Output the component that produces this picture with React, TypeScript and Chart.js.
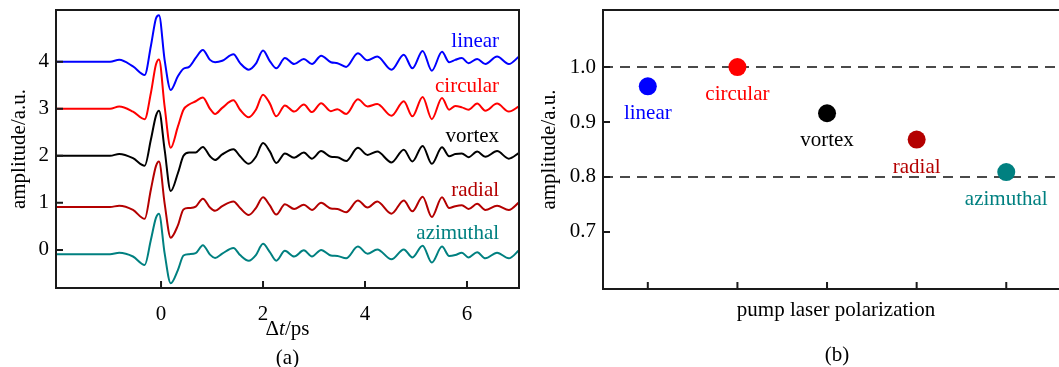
import React, { useEffect, useRef } from "react";
import { Chart, registerables } from "chart.js";

Chart.register(...registerables);

// ---------- data: panel (a) ----------
const timePs = [
  -2.06, -1.0, -0.82, -0.55, -0.32, -0.2, -0.1, -0.04, 0.07, 0.19,
  0.33, 0.44, 0.55, 0.68, 0.82, 0.96, 1.06, 1.2, 1.42, 1.55,
  1.72, 1.86, 2.0, 2.13, 2.26, 2.43, 2.61, 2.8, 2.96, 3.14,
  3.33, 3.46, 3.63, 3.86, 4.05, 4.24, 4.52, 4.76, 4.93, 5.13,
  5.31, 5.51, 5.65, 5.77, 5.9, 6.03, 6.2, 6.36, 6.59, 6.82, 7.02,
];
const linearTrace = [
  4.0, 4.0, 4.04, 3.9, 3.72, 4.33, 4.92, 4.99, 4.04, 3.4,
  3.69, 3.85, 3.89, 4.08, 4.25, 4.04, 3.99, 4.02, 4.16, 3.97,
  3.83, 3.96, 4.24, 4.02, 3.86, 4.08, 3.95, 4.06, 3.95, 4.13,
  3.99, 3.97, 3.89, 4.18, 4.03, 4.11, 3.83, 4.15, 3.86, 4.23,
  3.81, 4.21, 3.99, 4.04, 4.08, 3.97, 4.06, 3.95, 4.11, 3.95, 4.11,
];
const circularTrace = [
  3.0, 3.0, 3.05, 2.94, 2.78, 3.33, 3.94, 4.05, 3.05, 2.17,
  2.62, 2.98, 3.09, 3.16, 3.24, 3.0, 2.89, 3.02, 3.18, 2.98,
  2.82, 2.98, 3.3, 3.12, 2.84, 3.07, 2.94, 3.09, 2.93, 3.12,
  2.95, 2.99, 2.89, 3.2, 3.05, 3.1, 2.85, 3.16, 2.84, 3.25,
  2.78, 3.23, 2.98, 3.06, 3.03, 2.98, 3.11, 2.96, 3.11, 2.94, 3.05,
];
const vortexTrace = [
  2.0, 2.0, 2.04, 1.95, 1.79, 2.34, 2.85, 2.96, 2.13, 1.25,
  1.63, 2.0, 2.07, 2.07, 2.19, 1.99, 1.91, 2.03, 2.14, 1.99,
  1.83, 1.98, 2.27, 2.1, 1.85, 2.05, 1.96, 2.07, 1.94, 2.1,
  1.98, 1.97, 1.89, 2.17, 2.02, 2.09, 1.86, 2.13, 1.88, 2.21,
  1.83, 2.18, 1.99, 2.04, 2.05, 1.97, 2.09, 1.98, 2.1, 1.94, 2.06,
];
const radialTrace = [
  0.91, 0.91, 0.94, 0.85, 0.66, 1.28, 1.78, 1.88, 0.99, 0.26,
  0.52, 0.86, 0.89, 0.92, 1.09, 0.9, 0.83, 0.93, 1.03, 0.89,
  0.74, 0.89, 1.12, 0.95, 0.75, 0.97, 0.87, 0.96, 0.85, 1.0,
  0.88, 0.87, 0.8, 1.05, 0.9, 1.03, 0.77, 1.05, 0.82, 1.13,
  0.7, 1.12, 0.89, 0.93, 0.95, 0.87, 0.98, 0.85, 0.94, 0.85, 1.01,
];
const azimuthalTrace = [
  -0.09, -0.09, -0.06, -0.14, -0.32, 0.21, 0.68, 0.77, -0.07, -0.71,
  -0.43, -0.12, -0.09, -0.07, 0.1, -0.1, -0.17, -0.08, 0.04, -0.11,
  -0.23, -0.11, 0.13, -0.04, -0.23, -0.02, -0.14, -0.01, -0.14, 0.0,
  -0.12, -0.13, -0.18, 0.07, -0.08, 0.01, -0.2, 0.01, -0.16, 0.09,
  -0.27, 0.07, -0.13, -0.11, -0.06, -0.16, -0.05, -0.18, -0.06, -0.18, -0.01,
];
const leftXTicks = [0, 2, 4, 6];
const leftYTicks = [0, 1, 2, 3, 4];

// ---------- data: panel (b) ----------
const polarizations = ["linear", "circular", "vortex", "radial", "azimuthal"];
const relativeAmplitude = [0.965, 1.0, 0.916, 0.868, 0.809];
const referenceLevels = [1.0, 0.8];
const rightYTicks = [0.7, 0.8, 0.9, 1.0];

// ---------- styles ----------
const seriesColors = ["#0000ff", "#ff0000", "#000000", "#b40000", "#008080"];
const SERIF = "'Liberation Serif', 'Times New Roman', Times, serif";
const FONT_SIZE = 21;
const AXIS_COLOR = "#1a1a1a";

const traces = [linearTrace, circularTrace, vortexTrace, radialTrace, azimuthalTrace];
// label anchors (data coordinates, right aligned) for panel (a)
const leftLabelX = 6.63;
const leftLabelY = [4.31, 3.36, 2.3, 1.15, 0.23];

function frameAndTicks(chart: any, xTicks: number[], yTicks: number[]) {
  const { ctx, chartArea } = chart;
  const { left, right, top, bottom } = chartArea;
  const xs = chart.scales.x;
  const ys = chart.scales.y;
  ctx.save();
  ctx.strokeStyle = AXIS_COLOR;
  ctx.lineWidth = 2;
  ctx.beginPath();
  for (const v of xTicks) {
    const px = xs.getPixelForValue(v);
    ctx.moveTo(px, bottom);
    ctx.lineTo(px, bottom - 7);
  }
  for (const v of yTicks) {
    const py = ys.getPixelForValue(v);
    ctx.moveTo(left, py);
    ctx.lineTo(left + 7, py);
  }
  ctx.stroke();
  ctx.strokeRect(left, top, right - left, bottom - top);
  ctx.restore();
}

function rotatedTitle(ctx: CanvasRenderingContext2D, text: string, x: number, y: number) {
  ctx.save();
  ctx.translate(x, y);
  ctx.rotate(-Math.PI / 2);
  ctx.font = `${FONT_SIZE}px ${SERIF}`;
  ctx.fillStyle = "#000";
  ctx.textAlign = "center";
  ctx.textBaseline = "middle";
  ctx.fillText(text, 0, 0);
  ctx.restore();
}

const leftPlugin = {
  id: "leftDecor",
  afterDraw(chart: any) {
    const { ctx, chartArea } = chart;
    frameAndTicks(chart, leftXTicks, leftYTicks);
    const xs = chart.scales.x;
    const ys = chart.scales.y;
    ctx.save();
    ctx.font = `${FONT_SIZE}px ${SERIF}`;
    ctx.textAlign = "right";
    ctx.textBaseline = "alphabetic";
    polarizations.forEach((name, i) => {
      ctx.fillStyle = seriesColors[i];
      ctx.fillText(name, xs.getPixelForValue(leftLabelX), ys.getPixelForValue(leftLabelY[i]));
    });
    // x title: Δt/ps with italic t
    const cx = (chartArea.left + chartArea.right) / 2;
    const base = 335;
    const normal = `${FONT_SIZE}px ${SERIF}`;
    const italic = `italic ${FONT_SIZE}px ${SERIF}`;
    ctx.fillStyle = "#000";
    ctx.textAlign = "left";
    ctx.font = normal;
    const w1 = ctx.measureText("Δ").width;
    const w3 = ctx.measureText("/ps").width;
    ctx.font = italic;
    const w2 = ctx.measureText("t").width;
    let x0 = cx - (w1 + w2 + w3) / 2;
    ctx.font = normal;
    ctx.fillText("Δ", x0, base);
    x0 += w1;
    ctx.font = italic;
    ctx.fillText("t", x0, base);
    x0 += w2;
    ctx.font = normal;
    ctx.fillText("/ps", x0, base);
    ctx.textAlign = "center";
    ctx.fillText("(a)", cx, 364);
    ctx.restore();
    rotatedTitle(ctx, "amplitude/a.u.", 19, (chartArea.top + chartArea.bottom) / 2);
  },
};

const rightPlugin = {
  id: "rightDecor",
  afterDraw(chart: any) {
    const { ctx, chartArea } = chart;
    frameAndTicks(chart, polarizations.map((_, i) => i), rightYTicks);
    const xs = chart.scales.x;
    const ys = chart.scales.y;
    ctx.save();
    ctx.font = `${FONT_SIZE}px ${SERIF}`;
    ctx.textAlign = "center";
    ctx.textBaseline = "alphabetic";
    polarizations.forEach((name, i) => {
      ctx.fillStyle = seriesColors[i];
      ctx.fillText(name, xs.getPixelForValue(i), ys.getPixelForValue(relativeAmplitude[i]) + 33);
    });
    ctx.fillStyle = "#000";
    const cx = (chartArea.left + chartArea.right) / 2;
    ctx.fillText("pump laser polarization", cx, 316);
    ctx.fillText("(b)", cx + 1, 361);
    ctx.restore();
    rotatedTitle(ctx, "amplitude/a.u.", 19, (chartArea.top + chartArea.bottom) / 2);
  },
};

const tickFont = { family: SERIF, size: FONT_SIZE };

function fitX(height: number) {
  return (s: any) => {
    s.height = height;
    s.paddingLeft = 0;
    s.paddingRight = 0;
    s.paddingTop = 0;
    s.paddingBottom = 0;
  };
}
function fitY(width: number) {
  return (s: any) => {
    s.width = width;
    s.paddingLeft = 0;
    s.paddingRight = 0;
    s.paddingTop = 0;
    s.paddingBottom = 0;
  };
}

function LeftChart() {
  const ref = useRef<HTMLCanvasElement>(null);
  useEffect(() => {
    const chart = new Chart(ref.current!, {
      type: "line",
      data: {
        datasets: traces.map((tr, i) => ({
          label: polarizations[i],
          data: timePs.map((t, k) => ({ x: t, y: tr[k] })),
          borderColor: seriesColors[i],
          borderWidth: 2,
          pointRadius: 0,
          fill: false,
          cubicInterpolationMode: "monotone" as const,
        })),
      },
      options: {
        animation: false,
        responsive: false,
        devicePixelRatio: 1,
        layout: { padding: { top: 10, right: 11, left: 0, bottom: 0 } },
        plugins: { legend: { display: false }, tooltip: { enabled: false } },
        scales: {
          x: {
            type: "linear",
            min: -2.06,
            max: 7.02,
            afterBuildTicks: (s: any) => {
              s.ticks = leftXTicks.map((v) => ({ value: v }));
            },
            afterFit: fitX(79),
            grid: { display: false, drawTicks: false },
            border: { display: false },
            ticks: { font: tickFont, color: "#000", padding: 14, callback: (v: any) => String(v) },
          },
          y: {
            type: "linear",
            min: -0.81,
            max: 5.1,
            afterBuildTicks: (s: any) => {
              s.ticks = leftYTicks.map((v) => ({ value: v }));
            },
            afterFit: fitY(56),
            grid: { display: false, drawTicks: false },
            border: { display: false },
            ticks: { font: tickFont, color: "#000", padding: 7, callback: (v: any) => String(v) },
          },
        },
      },
      plugins: [leftPlugin],
    } as any);
    return () => chart.destroy();
  }, []);
  return (
    <canvas
      ref={ref}
      width={530}
      height={367}
      style={{ position: "absolute", left: 0, top: 0, width: 530, height: 367 }}
    />
  );
}

function RightChart() {
  const ref = useRef<HTMLCanvasElement>(null);
  useEffect(() => {
    const chart = new Chart(ref.current!, {
      type: "scatter",
      data: {
        datasets: [
          {
            label: "amplitude",
            data: relativeAmplitude.map((v, i) => ({ x: i, y: v })),
            pointRadius: 9,
            pointHoverRadius: 9,
            pointBorderWidth: 0,
            pointBackgroundColor: seriesColors,
            pointBorderColor: seriesColors,
            showLine: false,
          },
          ...referenceLevels.map((lv) => ({
            type: "line" as const,
            label: `level ${lv}`,
            data: [
              { x: -0.5, y: lv },
              { x: 4.7, y: lv },
            ],
            borderColor: "#4a4a4a",
            borderWidth: 2,
            borderDash: [10, 7],
            pointRadius: 0,
            showLine: true,
            fill: false,
          })),
        ],
      },
      options: {
        animation: false,
        responsive: false,
        devicePixelRatio: 1,
        layout: { padding: { top: 10, right: 11, left: 0, bottom: 0 } },
        plugins: { legend: { display: false }, tooltip: { enabled: false } },
        scales: {
          x: {
            type: "linear",
            min: -0.5,
            max: 4.7,
            afterBuildTicks: (s: any) => {
              s.ticks = polarizations.map((_, i) => ({ value: i }));
            },
            afterFit: fitX(78),
            grid: { display: false, drawTicks: false },
            border: { display: false },
            ticks: { display: false },
          },
          y: {
            type: "linear",
            min: 0.596,
            max: 1.104,
            afterBuildTicks: (s: any) => {
              s.ticks = rightYTicks.map((v) => ({ value: v }));
            },
            afterFit: fitY(73),
            grid: { display: false, drawTicks: false },
            border: { display: false },
            ticks: {
              font: tickFont,
              color: "#000",
              padding: 7,
              callback: (v: any) => Number(v).toFixed(1),
            },
          },
        },
      },
      plugins: [rightPlugin],
    } as any);
    return () => chart.destroy();
  }, []);
  return (
    <canvas
      ref={ref}
      width={550}
      height={367}
      style={{ position: "absolute", left: 530, top: 0, width: 550, height: 367 }}
    />
  );
}

export default function App() {
  return (
    <div
      style={{
        position: "fixed",
        left: 0,
        top: 0,
        width: 1059,
        height: 367,
        overflow: "hidden",
        background: "#fff",
      }}
    >
      <LeftChart />
      <RightChart />
    </div>
  );
}
